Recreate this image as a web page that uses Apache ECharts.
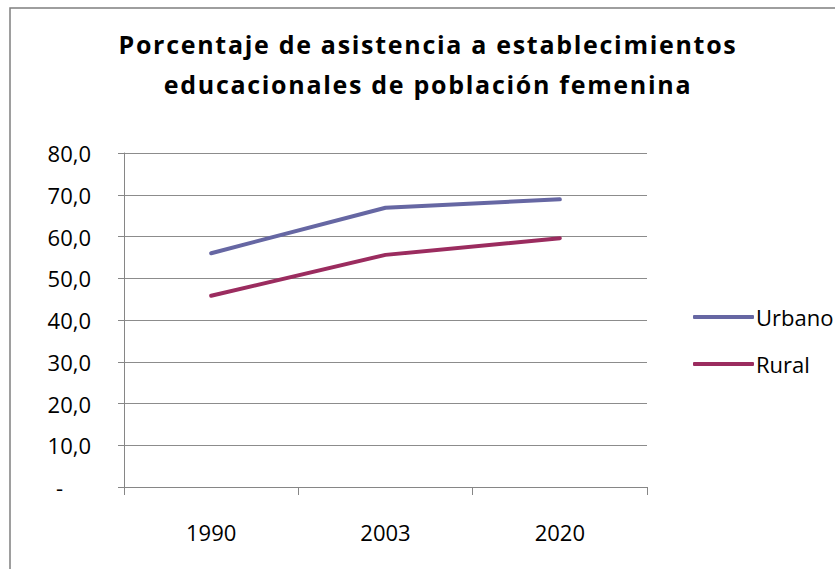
<!DOCTYPE html>
<html>
<head>
<meta charset="utf-8">
<script src="https://cdn.jsdelivr.net/npm/echarts@6/dist/echarts.min.js"></script>
<style>
  html, body { margin: 0; padding: 0; background: #fff; }
  #chart { width: 835px; height: 569px; }
</style>
</head>
<body>
<div id="chart"></div>
<script>
// Años censales
const years = ['1990', '2003', '2020'];
// Porcentaje de asistencia, población femenina
const urbano = [56.0, 66.9, 68.9];
const rural = [45.8, 55.6, 59.6];
const seriesNames = ['Urbano', 'Rural'];
const titleLines = ['Porcentaje de asistencia a establecimientos', 'educacionales de población femenina'];

const FONT = '"Open Sans", sans-serif';
const chart = echarts.init(document.getElementById('chart'), null, { renderer: 'svg' });

chart.setOption({
  backgroundColor: '#ffffff',
  animation: false,
  graphic: [{
    type: 'rect',
    shape: { x: 10, y: 8, width: 900, height: 700 },
    style: { fill: 'none', stroke: '#7f7f7f', lineWidth: 1.5 },
    silent: true,
    z: -1
  }],
  title: {
    text: titleLines.join('\n'),
    left: 423,
    textAlign: 'center',
    top: 19,
    textStyle: {
      fontFamily: FONT,
      fontWeight: 'bold',
      fontSize: 25,
      lineHeight: 40,
      color: '#000'
    }
  },
  legend: {
    orient: 'vertical',
    left: 688,
    top: 301,
    itemWidth: 61,
    itemHeight: 4,
    itemGap: 25,
    icon: 'roundRect',
    textStyle: { fontFamily: FONT, fontSize: 22, color: '#000', padding: [0, 0, 0, -3] },
    data: seriesNames
  },
  grid: { left: 124, right: 188, top: 153, bottom: 82, containLabel: false },
  xAxis: {
    type: 'category',
    data: years,
    boundaryGap: true,
    axisLine: { lineStyle: { color: '#868686', width: 1 } },
    axisTick: { show: true, length: 8, alignWithLabel: false, lineStyle: { color: '#868686' } },
    axisLabel: { margin: 34, fontFamily: FONT, fontSize: 22, color: '#000' },
    splitLine: { show: false }
  },
  yAxis: {
    type: 'value',
    min: 0,
    max: 80,
    interval: 10,
    axisLine: { show: true, lineStyle: { color: '#868686', width: 1 } },
    axisTick: { show: true, length: 6, lineStyle: { color: '#868686' } },
    axisLabel: {
      margin: 33,
      fontFamily: FONT,
      fontSize: 22,
      color: '#000',
      formatter: function (v) {
        return v === 0 ? '{z|-}' : v.toFixed(1).replace('.', ',');
      },
      rich: { z: { fontFamily: FONT, fontSize: 22, color: '#000', padding: [0, 28, 0, 0] } }
    },
    splitLine: { show: true, lineStyle: { color: '#8c8c8c', width: 1 } }
  },
  series: [
    {
      name: seriesNames[0],
      type: 'line',
      data: urbano,
      symbol: 'none',
      color: '#6667a3',
      lineStyle: { width: 4, color: '#6667a3', cap: 'round' }
    },
    {
      name: seriesNames[1],
      type: 'line',
      data: rural,
      symbol: 'none',
      color: '#9b2c5f',
      lineStyle: { width: 4, color: '#9b2c5f', cap: 'round' }
    }
  ]
});

// Spread out the title letters a little
document.querySelectorAll('#chart svg text').forEach(function (t) {
  if (titleLines.indexOf(t.textContent) !== -1) {
    t.setAttribute('letter-spacing', '1.7');
  }
});
</script>
</body>
</html>
